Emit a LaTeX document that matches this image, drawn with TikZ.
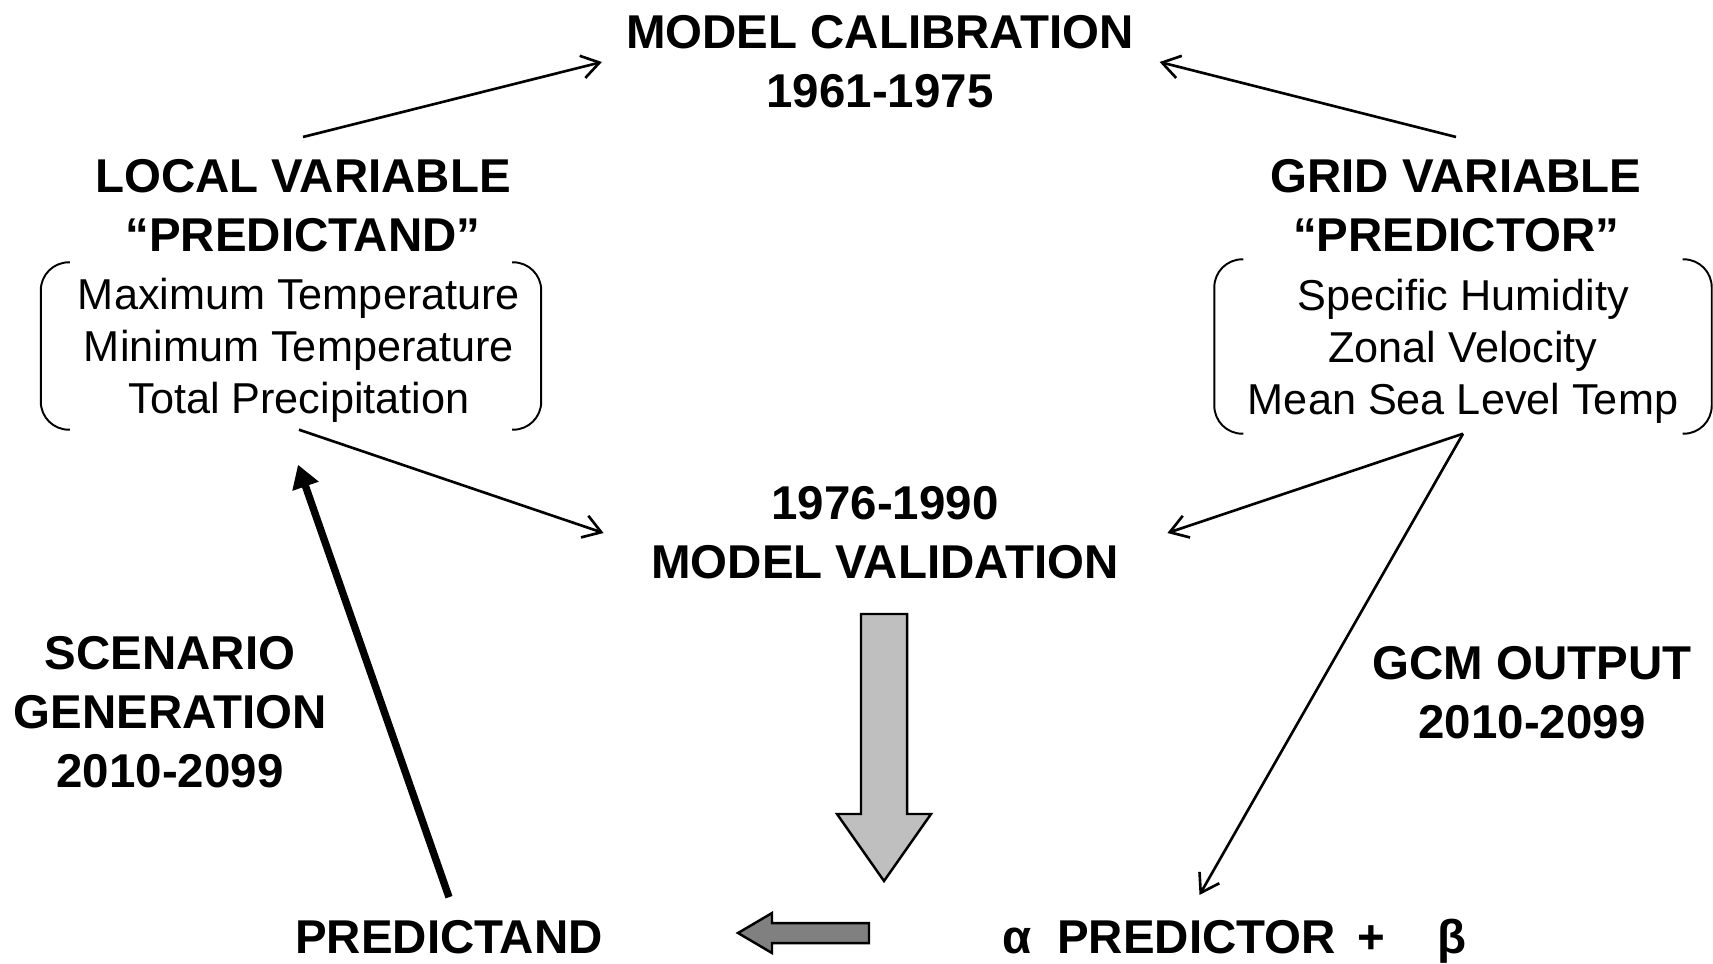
\documentclass[tikz,border=0pt]{standalone}
\usepackage{fontspec}
\setmainfont{Liberation Sans}
\usetikzlibrary{arrows.meta}

\begin{document}
\begin{tikzpicture}[>={Straight Barb[length=5pt,width=6.5pt]},
    hd/.style={font={\fontsize{13.5}{16.8}\selectfont\bfseries}, align=center, inner sep=0pt},
    lst/.style={font={\fontsize{12.3}{14.8}\selectfont}, align=center, inner sep=0pt, text depth=0pt},
    link/.style={->, line width=0.75pt},
    bracket/.style={line width=0.55pt, rounded corners=0.28cm}]
\useasboundingbox (0,0) rectangle (17.13,9.63);
% headings
\node [hd] (calib) at (8.80,9.01) {MODEL CALIBRATION\\1961-1975};
\node [hd] (lvar) at (3.03,7.57) {LOCAL VARIABLE\\“PREDICTAND”};
\node [hd] (gvar) at (14.56,7.57) {GRID VARIABLE\\“PREDICTOR”};
\node [hd] (valid) at (8.85,4.30) {1976-1990\\MODEL VALIDATION};
\node [hd] (scen) at (1.70,2.51) {SCENARIO\\GENERATION\\2010-2099};
\node [hd] (gcm) at (15.32,2.70) {GCM OUTPUT\\2010-2099};
\node [hd, anchor=base] (pred) at (4.49,0.10) {PREDICTAND};
\node [hd, anchor=base] (formula) at (12.34,0.10) {α\hspace{0.55em}PREDICTOR\hspace{0.45em}+\hspace{1.1em}β};
% variable lists
\node [lst, minimum width=4.99cm, minimum height=1.66cm] (lbox) at (2.99,6.17)
    {Maximum Temperature\\Minimum Temperature\\Total Precipitation};
\node [lst, minimum width=4.96cm, minimum height=1.73cm] (rbox) at (14.63,6.165)
    {Specific Humidity\\Zonal Velocity\\Mean Sea Level Temp};
\foreach \b/\s in {lbox/-0.08, rbox/0} {
    \draw [bracket] ([xshift=\s cm+0.29cm]\b.north west) -- ([xshift=\s cm]\b.north west)
        -- ([xshift=\s cm]\b.south west) -- ([xshift=\s cm+0.29cm]\b.south west);
    \draw [bracket] ([xshift=\s cm-0.29cm]\b.north east) -- ([xshift=\s cm]\b.north east)
        -- ([xshift=\s cm]\b.south east) -- ([xshift=\s cm-0.29cm]\b.south east);
}
% connectors
\draw [link] ([yshift=0.22cm]lvar.north) -- ([xshift=-0.235cm]calib.west);
\draw [link] ([yshift=0.22cm]gvar.north) -- ([xshift=0.25cm]calib.east);
\draw [link] (lbox.south) -- ([xshift=-0.47cm]valid.west);
\draw [link] (rbox.south) -- ([xshift=0.48cm]valid.east);
\coordinate (gcmtip) at ([xshift=-0.345cm,yshift=0.23cm]formula.north);
\draw [link] (rbox.south) -- (gcmtip);
\draw [line width=2.1pt, -{Triangle[length=6.5pt,width=7.5pt]}] ([yshift=0.22cm]pred.north) -- ([xshift=-0.01cm,yshift=-0.35cm]lbox.south);
% block arrows
\draw [line width=0.7pt, fill=black!25] (8.61,3.49) -- (9.07,3.49) -- (9.07,1.49) -- (9.31,1.49)
    -- (8.84,0.82) -- (8.37,1.49) -- (8.61,1.49) -- cycle;
\draw [line width=0.7pt, fill=black!50] (8.69,0.40) -- (7.72,0.40) -- (7.72,0.50) -- (7.38,0.30)
    -- (7.72,0.10) -- (7.72,0.20) -- (8.69,0.20) -- cycle;
\end{tikzpicture}
\end{document}
